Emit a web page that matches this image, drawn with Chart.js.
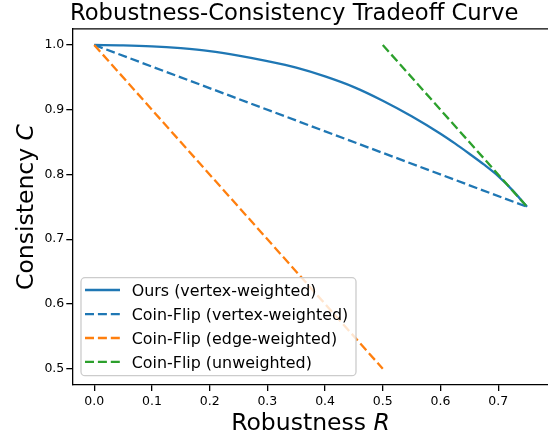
<!DOCTYPE html>
<html>
<head>
<meta charset="utf-8">
<script src="https://cdn.jsdelivr.net/npm/chart.js@4"></script>
<style>
  html, body { margin: 0; padding: 0; background: #fff; }
  #wrap { width: 548px; height: 435px; }
</style>
</head>
<body>
<div id="wrap"><canvas id="c" width="548" height="435"></canvas></div>
<script>
/* ---------- data ---------- */
const oursR = [0, 0.05, 0.1, 0.15, 0.2, 0.25, 0.3, 0.35, 0.4, 0.45, 0.5, 0.55, 0.6, 0.625, 0.65, 0.675, 0.7, 0.725, 0.75];
const oursC = [1.0, 0.9995, 0.998, 0.995, 0.9905, 0.9835, 0.975, 0.965, 0.9515, 0.935, 0.914, 0.890, 0.863, 0.848, 0.832, 0.8155, 0.7975, 0.7755, 0.75];

const cfVertexR = [0, 0.75];
const cfVertexC = [1.0, 0.75];

const cfEdgeR = [0, 0.5];
const cfEdgeC = [1.0, 0.5];

const cfUnwR = [0.5, 0.75];
const cfUnwC = [1.0, 0.75];

const seriesLabels = [
  'Ours (vertex-weighted)',
  'Coin-Flip (vertex-weighted)',
  'Coin-Flip (edge-weighted)',
  'Coin-Flip (unweighted)'
];

const xTicks = [0.0, 0.1, 0.2, 0.3, 0.4, 0.5, 0.6, 0.7];
const yTicks = [0.5, 0.6, 0.7, 0.8, 0.9, 1.0];

const titleText = 'Robustness-Consistency Tradeoff Curve';

/* ---------- helpers ---------- */
const FONT = '"DejaVu Sans", sans-serif';
const BLUE = '#1f77b4', ORANGE = '#ff7f0e', GREEN = '#2ca02c';
const DASH = [9, 3.9];
const LW = 2.3;

function pts(xs, ys) {
  return xs.map((x, i) => ({ x, y: ys[i] }));
}

/* top spine, title, axis labels and legend */
const decor = {
  id: 'decor',
  afterDraw(chart) {
    const { ctx, chartArea: a } = chart;
    ctx.save();

    /* top spine */
    ctx.strokeStyle = '#000';
    ctx.lineWidth = 1.3;
    ctx.beginPath();
    ctx.moveTo(a.left, a.top);
    ctx.lineTo(a.right, a.top);
    ctx.stroke();

    /* title */
    ctx.fillStyle = '#000';
    ctx.textBaseline = 'alphabetic';
    ctx.textAlign = 'center';
    ctx.font = '22.7px ' + FONT;
    ctx.fillText(titleText, 294.2, 20);

    /* x label: "Robustness R" with italic R */
    drawMixed(ctx, 'Robustness ', 'R', 310.5, 430, 23.5);

    /* y label rotated */
    ctx.save();
    ctx.translate(33, 207);
    ctx.rotate(-Math.PI / 2);
    drawMixed(ctx, 'Consistency ', 'C', 0, 0, 23.5);
    ctx.restore();

    /* legend */
    const bx = 81, by = 277.7, bw = 275, bh = 98;
    ctx.beginPath();
    ctx.roundRect(bx, by, bw, bh, 4);
    ctx.fillStyle = 'rgba(255,255,255,0.8)';
    ctx.fill();
    ctx.strokeStyle = '#cccccc';
    ctx.lineWidth = 1.3;
    ctx.stroke();

    const rows = [290, 314.1, 338, 361.9];
    chart.data.datasets.forEach((ds, i) => {
      const y = rows[i];
      ctx.strokeStyle = ds.borderColor;
      ctx.lineWidth = ds.borderWidth;
      ctx.setLineDash(ds.borderDash || []);
      ctx.beginPath();
      ctx.moveTo(85, y);
      ctx.lineTo(120, y);
      ctx.stroke();
      ctx.setLineDash([]);
      ctx.fillStyle = '#000';
      ctx.textAlign = 'left';
      ctx.textBaseline = 'alphabetic';
      ctx.font = '15.9px ' + FONT;
      ctx.fillText(ds.label, 131.7, y + 5.7);
    });

    ctx.restore();
  }
};

function drawMixed(ctx, plain, ital, cx, baseY, size) {
  ctx.textBaseline = 'alphabetic';
  ctx.textAlign = 'left';
  ctx.font = size + 'px ' + FONT;
  const w1 = ctx.measureText(plain).width;
  ctx.font = 'italic ' + size + 'px ' + FONT;
  const w2 = ctx.measureText(ital).width;
  const x0 = cx - (w1 + w2) / 2;
  ctx.fillStyle = '#000';
  ctx.font = size + 'px ' + FONT;
  ctx.fillText(plain, x0, baseY);
  ctx.font = 'italic ' + size + 'px ' + FONT;
  ctx.fillText(ital, x0 + w1, baseY);
}

const axisCommon = {
  type: 'linear',
  grid: { display: true, drawOnChartArea: false, drawTicks: true, tickLength: 6, color: '#000', lineWidth: 1.3 },
  border: { display: true, color: '#000', width: 1.3 },
  ticks: { color: '#000', font: { family: FONT, size: 12.5 }, padding: 3, callback: v => Number(v).toFixed(1) }
};

new Chart(document.getElementById('c'), {
  type: 'line',
  data: {
    datasets: [
      { label: seriesLabels[0], data: pts(oursR, oursC), borderColor: BLUE, borderWidth: LW,
        cubicInterpolationMode: 'monotone', pointRadius: 0, fill: false, order: 3 },
      { label: seriesLabels[1], data: pts(cfVertexR, cfVertexC), borderColor: BLUE, borderWidth: LW,
        borderDash: DASH, pointRadius: 0, fill: false, order: 2 },
      { label: seriesLabels[2], data: pts(cfEdgeR, cfEdgeC), borderColor: ORANGE, borderWidth: LW,
        borderDash: DASH, pointRadius: 0, fill: false, order: 1 },
      { label: seriesLabels[3], data: pts(cfUnwR, cfUnwC), borderColor: GREEN, borderWidth: LW,
        borderDash: DASH, pointRadius: 0, fill: false, order: 0 }
    ]
  },
  options: {
    responsive: false,
    animation: false,
    devicePixelRatio: 1,
    layout: { padding: { top: 28.8, left: 0, right: 0, bottom: 0 } },
    plugins: {
      legend: { display: false },
      title: { display: false },
      tooltip: { enabled: false }
    },
    scales: {
      x: Object.assign({}, axisCommon, {
        min: -0.038, max: 0.7863,
        afterBuildTicks: s => { s.ticks = xTicks.map(v => ({ value: v })); },
        afterFit: s => { s.height = 50.1; }
      }),
      y: Object.assign({}, axisCommon, {
        min: 0.475, max: 1.025,
        ticks: Object.assign({}, axisCommon.ticks, { padding: 2 }),
        afterBuildTicks: s => { s.ticks = yTicks.map(v => ({ value: v })); },
        afterFit: s => { s.width = 72.3; }
      })
    }
  },
  plugins: [decor]
});
</script>
</body>
</html>
